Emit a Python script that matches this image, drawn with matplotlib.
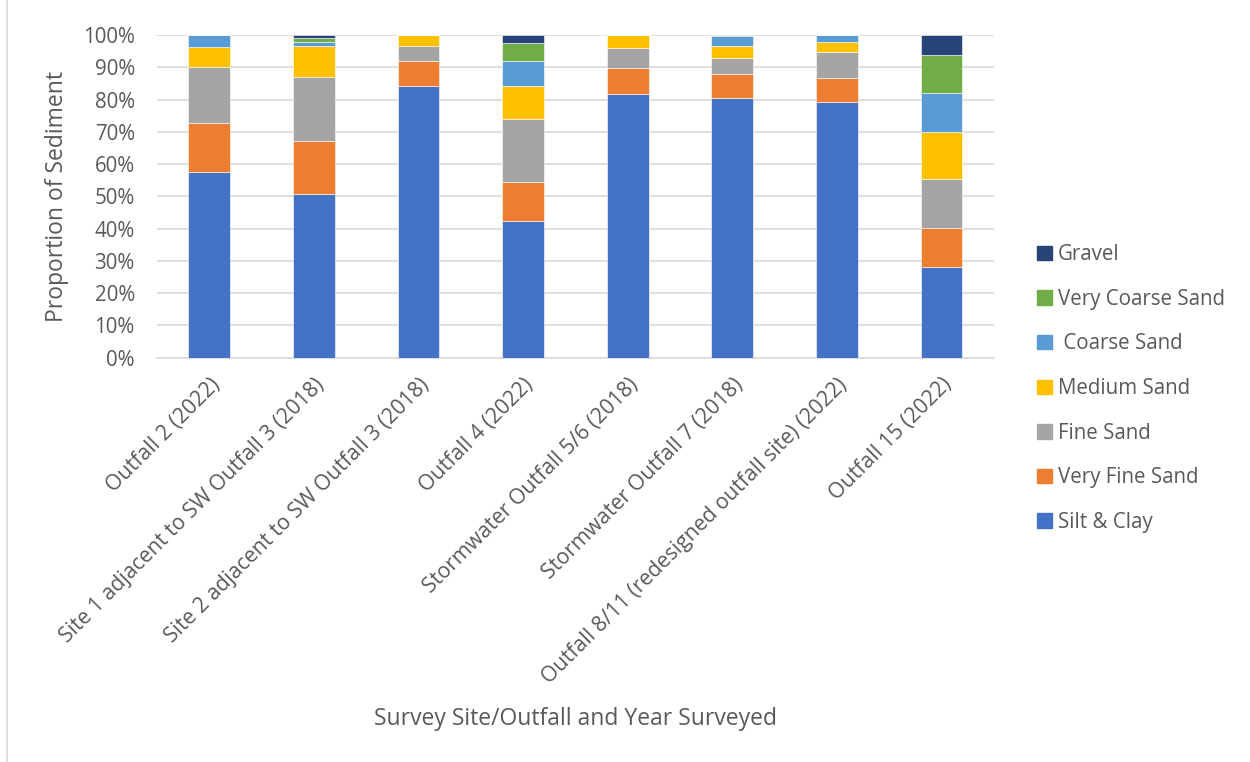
import matplotlib
matplotlib.use("Agg")
import matplotlib.pyplot as plt
from matplotlib.lines import Line2D
import numpy as np

plt.rcParams['font.family'] = ['Open Sans', 'DejaVu Sans']

categories = [
    "Outfall 2 (2022)",
    "Site 1 adjacent to SW Outfall 3 (2018)",
    "Site 2 adjacent to SW Outfall 3 (2018)",
    "Outfall 4 (2022)",
    "Stormwater Outfall 5/6 (2018)",
    "Stormwater Outfall 7 (2018)",
    "Outfall 8/11 (redesigned outfall site) (2022)",
    "Outfall 15 (2022)",
]
series_names = ["Silt & Clay", "Very Fine Sand", "Fine Sand", "Medium Sand",
                " Coarse Sand", "Very Coarse Sand", "Gravel"]
silt_clay = [57.6, 50.6, 84.3, 42.4, 81.8, 80.5, 79.3, 28.1]
very_fine_sand = [15.2, 16.6, 7.5, 12.1, 8.1, 7.3, 7.5, 12.1]
fine_sand = [17.2, 19.8, 4.9, 19.5, 6.2, 5.0, 7.9, 15.2]
medium_sand = [6.3, 9.6, 3.3, 10.2, 3.9, 3.9, 3.3, 14.4]
coarse_sand = [3.6, 1.3, 0.0, 7.8, 0.0, 3.1, 1.9, 12.1]
very_coarse_sand = [0.1, 1.3, 0.0, 5.6, 0.0, 0.2, 0.0, 11.8]
gravel = [0.0, 0.8, 0.0, 2.4, 0.0, 0.0, 0.0, 6.3]
y_ticklabels = ["0%", "10%", "20%", "30%", "40%", "50%", "60%", "70%", "80%", "90%", "100%"]

colors = ["#4472C4", "#ED7D31", "#A5A5A5", "#FFC000", "#5B9BD5", "#70AD47", "#264478"]
data = [silt_clay, very_fine_sand, fine_sand, medium_sand, coarse_sand, very_coarse_sand, gravel]

fig = plt.figure(figsize=(12.5, 7.62), dpi=100)
ax = fig.add_axes([0.1256, 0.5308, 0.795 - 0.1256, 0.954 - 0.5308])

x = np.arange(len(categories))
bottom = np.zeros(len(categories))
handles = []
for name, vals, c in zip(series_names, data, colors):
    v = np.array(vals) / 100.0
    ax.bar(x, v, 0.4, bottom=bottom, color=c, edgecolor="white", linewidth=0.4, zorder=3)
    bottom += v
    handles.append(plt.Rectangle((0, 0), 1, 1, color=c))

ax.set_xlim(-0.5, len(categories) - 0.5)
ax.set_ylim(0, 1.0)
ax.set_yticks(np.linspace(0, 1, 11))
ax.set_yticklabels(y_ticklabels)
ax.yaxis.grid(True, color="#d9d9d9", linewidth=1.2, zorder=0)
ax.set_axisbelow(True)
for s in ["top", "right", "left"]:
    ax.spines[s].set_visible(False)
ax.spines["bottom"].set_color("#d9d9d9")
ax.spines["bottom"].set_linewidth(1.2)
ax.tick_params(axis="y", length=0, colors="#595959", labelsize=14.8, pad=16)
ax.set_xticks(x)
ax.set_xticklabels(categories, rotation=45, ha="right", rotation_mode="anchor")
ax.tick_params(axis="x", length=0, colors="#595959", labelsize=15.3, pad=12)

ax.set_ylabel("Proportion of Sediment", fontsize=16.5, color="#595959", labelpad=10)
fig.text(0.46, 0.057, "Survey Site/Outfall and Year Surveyed", fontsize=16.5,
         color="#595959", ha="center", va="center")

leg = fig.legend(handles[::-1], series_names[::-1], loc="upper left",
                 bbox_to_anchor=(0.815, 0.704), frameon=False, fontsize=14.8,
                 handlelength=0.7, handleheight=0.7, handletextpad=0.3,
                 labelspacing=1.15, labelcolor="#595959")

fig.add_artist(Line2D([0.0056, 0.0056], [0.0, 1.0], color="#d9d9d9", linewidth=1.2,
                      transform=fig.transFigure))

fig.savefig("out.png", dpi=100)
